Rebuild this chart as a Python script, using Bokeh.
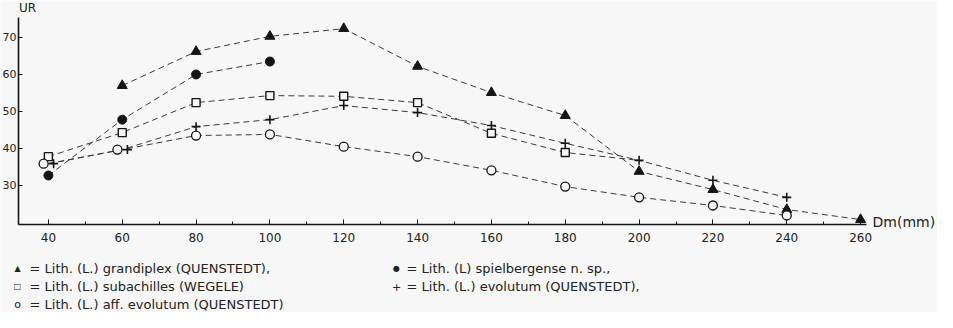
from bokeh.plotting import figure
from bokeh.models import Range1d, Label, ColumnDataSource, FixedTicker, LinearAxis
from bokeh.transform import dodge
from bokeh.embed import file_html
from bokeh.resources import INLINE

# ---------------- data ----------------
x_ticks = [40, 60, 80, 100, 120, 140, 160, 180, 200, 220, 240, 260]
x_minor = [50, 70, 90, 110, 130, 150, 170, 190, 210, 230, 250]
y_ticks = [30, 40, 50, 60, 70]

grandiplex_x = [60, 80, 100, 120, 140, 160, 180, 200, 220, 240, 260]
grandiplex_y = [57.0, 66.2, 70.3, 72.4, 62.2, 55.1, 48.9, 33.8, 28.9, 23.5, 20.8]

spiel_x = [40, 60, 80, 100]
spiel_y = [32.7, 47.8, 60.0, 63.5]

subach_x = [40, 60, 80, 100, 120, 140, 160, 180]
subach_y = [37.8, 44.3, 52.4, 54.3, 54.1, 52.4, 44.1, 38.9]
subach_line_end_x = 200      # dashed line runs on to the "+" point at 200
subach_line_end_y = 36.8

evol_x = [40, 60, 80, 100, 120, 140, 160, 180, 200, 220, 240]
evol_y = [35.9, 39.7, 45.9, 47.8, 51.6, 49.7, 46.2, 41.4, 36.8, 31.4, 26.8]

aff_x = [40, 60, 80, 100, 120, 140, 160, 180, 200, 220, 240]
aff_y = [35.9, 39.7, 43.5, 43.8, 40.5, 37.8, 34.1, 29.7, 26.8, 24.6, 21.9]

n_shared = 2   # first points where "+" and "o" coincide (drawn side by side)

legend_entries = [
    ("▲", "= Lith. (L.) grandiplex (QUENSTEDT),", 0, 0),
    ("●", "= Lith. (L) spielbergense n. sp.,", 1, 0),
    ("□", "= Lith. (L.) subachilles (WEGELE)", 0, 1),
    ("+", "= Lith. (L.) evolutum (QUENSTEDT),", 1, 1),
    ("o", "= Lith. (L.) aff. evolutum (QUENSTEDT)", 0, 2),
]

# ---------------- layout ----------------
W, H = 937, 312
LEFT, RIGHT, TOP, BOTTOM = 18, 71, 17, 88   # where the axes box sits on the canvas
X0, X1 = 31.9, 261.6                        # axis extents (data)
Y0, Y1 = 19.46, 75.4
FW, FH = W - LEFT - RIGHT, H - TOP - BOTTOM
ppx = FW / (X1 - X0)
ppy = FH / (Y1 - Y0)

def dx(cx):
    return X0 + (cx - LEFT) / ppx

def dy(cy):
    return Y1 - (cy - TOP) / ppy

BG = "#f7f7f7"
INK = "#151515"
TXT = "#222222"
FONT = "DejaVu Sans"

p = figure(width=W, height=H,
           x_range=Range1d(dx(0), dx(W)), y_range=Range1d(dy(H), dy(0)),
           output_backend="svg", toolbar_location=None,
           x_axis_location=None, y_axis_location=None,
           min_border=0, min_border_left=0, min_border_right=0,
           min_border_top=0, min_border_bottom=0)
p.background_fill_color = BG
p.border_fill_color = BG
p.outline_line_color = None
p.grid.visible = False

xaxis = LinearAxis(fixed_location=Y0, bounds=(X0, X1),
                   ticker=FixedTicker(ticks=x_ticks, minor_ticks=x_minor))
xaxis.major_tick_in = 5
xaxis.major_tick_out = 0
xaxis.minor_tick_in = 3
xaxis.minor_tick_out = 0
xaxis.axis_line_width = 1.6
xaxis.axis_line_color = INK
xaxis.major_tick_line_color = INK
xaxis.minor_tick_line_color = INK
xaxis.major_label_text_font = FONT
xaxis.major_label_text_font_size = "12px"
xaxis.major_label_text_color = TXT
xaxis.major_label_standoff = 8
p.add_layout(xaxis, "below")

yaxis = LinearAxis(fixed_location=X0, bounds=(Y0, Y1),
                   ticker=FixedTicker(ticks=y_ticks))
yaxis.major_tick_in = 4
yaxis.major_tick_out = 0
yaxis.minor_tick_line_color = None
yaxis.axis_line_width = 1.6
yaxis.axis_line_color = INK
yaxis.major_tick_line_color = INK
yaxis.major_label_text_font = FONT
yaxis.major_label_text_font_size = "11px"
yaxis.major_label_text_color = TXT
yaxis.major_label_standoff = 2
p.add_layout(yaxis, "left")

dash = "6 4"
lc = "#3a3a3a"
p.line(grandiplex_x, grandiplex_y, line_dash=dash, line_color=lc, line_width=1)
p.line(spiel_x, spiel_y, line_dash=dash, line_color=lc, line_width=1)
p.line(subach_x + [subach_line_end_x], subach_y + [subach_line_end_y],
       line_dash=dash, line_color=lc, line_width=1)
p.line(evol_x, evol_y, line_dash=dash, line_color=lc, line_width=1)
p.line(aff_x, aff_y, line_dash=dash, line_color=lc, line_width=1)

p.scatter(grandiplex_x, grandiplex_y, marker="triangle", size=10,
          fill_color=INK, line_color=INK)
p.scatter(spiel_x, spiel_y, marker="circle", size=9, fill_color=INK, line_color=INK)
p.scatter(subach_x, subach_y, marker="square", size=8, fill_color=BG,
          line_color=INK, line_width=1.4)

evol_shared = ColumnDataSource(dict(x=evol_x[:n_shared], y=evol_y[:n_shared]))
evol_rest = ColumnDataSource(dict(x=evol_x[n_shared:], y=evol_y[n_shared:]))
aff_shared = ColumnDataSource(dict(x=aff_x[:n_shared], y=aff_y[:n_shared]))
aff_rest = ColumnDataSource(dict(x=aff_x[n_shared:], y=aff_y[n_shared:]))

p.scatter(x=dodge("x", -1.3, range=p.x_range), y="y", source=aff_shared,
          marker="circle", size=9, fill_color=BG, line_color=INK, line_width=1.3)
p.scatter(x="x", y="y", source=aff_rest,
          marker="circle", size=9, fill_color=BG, line_color=INK, line_width=1.3)
p.scatter(x=dodge("x", 1.4, range=p.x_range), y="y", source=evol_shared,
          marker="cross", size=9, line_color=INK, line_width=1.6)
p.scatter(x="x", y="y", source=evol_rest,
          marker="cross", size=9, line_color=INK, line_width=1.6)

# axis titles
p.add_layout(Label(x=dx(LEFT + 9), y=dy(TOP - 3), text="UR", text_font=FONT,
                   text_font_size="12px", text_align="center",
                   text_baseline="bottom", text_color=TXT))
p.add_layout(Label(x=dx(W - RIGHT + 6), y=dy(TOP + FH - 3), text="Dm(mm)",
                   text_font=FONT, text_font_size="14px", text_align="left",
                   text_baseline="middle", text_color=TXT))

# legend (text)
col_marker = [17, 396]
col_text = [29, 406]
row_y = [268, 286, 304]
for mk, txt, col, row in legend_entries:
    msize = "8px" if mk in ("▲", "●", "□") else "11px"
    p.add_layout(Label(x=dx(col_marker[col]), y=dy(row_y[row]), text=mk,
                       text_font=FONT, text_font_size=msize, text_align="center",
                       text_baseline="middle", text_color=TXT))
    p.add_layout(Label(x=dx(col_text[col]), y=dy(row_y[row]), text=txt,
                       text_font=FONT, text_font_size="13px", text_align="left",
                       text_baseline="middle", text_color=TXT))

open("out.html", "w").write(file_html(p, INLINE))
